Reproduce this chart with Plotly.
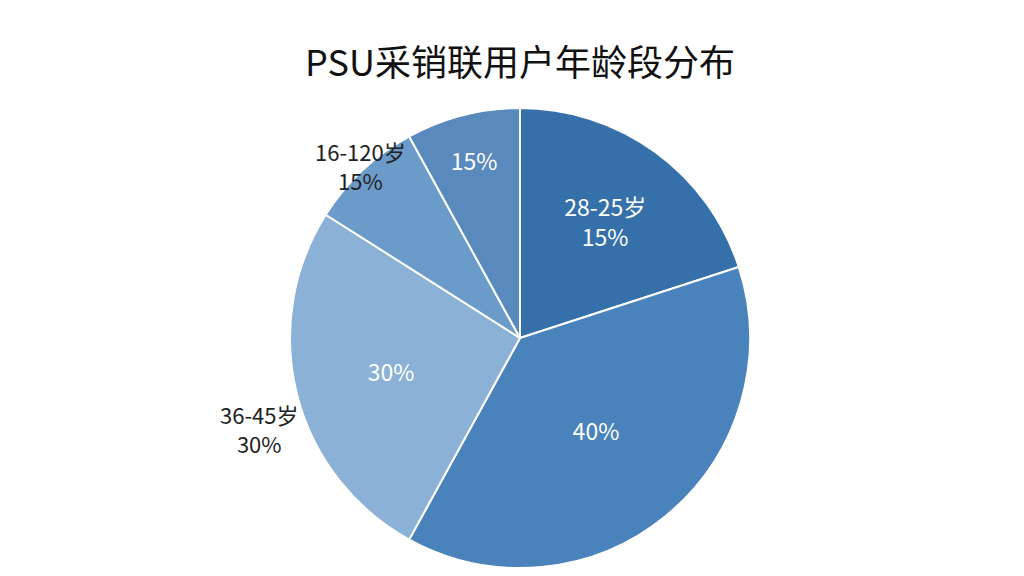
import plotly.graph_objects as go

labels = ["28-25岁", "40%段", "36-45岁", "16-120岁", "15%段"]
values = [20, 38, 26, 8, 8]
inside_text = ["28-25岁<br>15%", "40%", "30%", "", "15%"]
colors = ["#3670aa", "#4a82bb", "#8cb1d6", "#6b9bc9", "#5a8abd"]
outside_labels = ["16-120岁<br>15%", "36-45岁<br>30%"]

fig = go.Figure(go.Pie(
    labels=labels, values=values, text=inside_text, textinfo="text",
    textposition="inside", insidetextorientation="horizontal",
    sort=False, direction="clockwise", rotation=0,
    marker=dict(colors=colors, line=dict(color="white", width=2)),
    textfont=dict(color="white", size=23, family="Noto Sans CJK SC"),
    showlegend=False, hoverinfo="label+percent",
))
fig.update_layout(
    width=1024, height=576, paper_bgcolor="white",
    margin=dict(t=100, b=16, l=0, r=0),
    title=dict(text="PSU采销联用户年龄段分布", x=0.5, y=0.925, xanchor="center",
               font=dict(size=36, color="#111111", family="Noto Sans CJK SC")),
    font=dict(family="Noto Sans CJK SC"),
    annotations=[
        dict(text=outside_labels[0], x=305/1024, y=0.946, xref="paper", yref="paper",
             showarrow=False, font=dict(size=22, color="#222222")),
        dict(text=outside_labels[1], x=210/1024, y=0.233, xref="paper", yref="paper",
             showarrow=False, font=dict(size=22, color="#222222")),
    ],
)
fig.write_html("out.html")
